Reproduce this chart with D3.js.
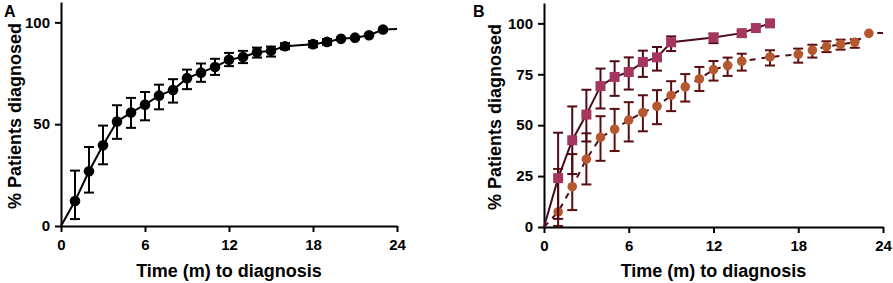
<!DOCTYPE html>
<html lang="en">
<head>
<meta charset="UTF-8">
<title>time to diagnosis</title>
<script src="https://cdn.jsdelivr.net/npm/d3@7/dist/d3.min.js"></script>
<style>
	body { margin: 0; background: #fff; }
	text { font-family: "Liberation Sans", Arial, sans-serif; font-weight: bold; }
</style>
</head>
<body>
<script>
// panel A: all patients
var aMonths = [1, 2, 3, 4, 5, 6, 7, 8, 9, 10, 11, 12, 13, 14, 15, 16, 18, 19, 20, 21, 22, 23];
var aMean = [12.3, 26.9, 39.6, 51.3, 55.7, 59.6, 64.0, 66.8, 72.6, 75.3, 78.1, 81.6, 83.0, 85.3, 86.0, 88.3, 89.3, 90.4, 91.9, 92.5, 93.7, 96.5];
var aLow = [3.4, 16.4, 30.3, 42.8, 48.2, 51.9, 57.3, 60.6, 67.2, 70.8, 74.2, 78.5, 80.0, 82.7, 83.2, 86.8, 87.8, 89.0, 91.9, 92.5, 93.7, 96.5];
var aHigh = [27.2, 38.8, 49.3, 59.3, 62.9, 65.8, 69.4, 72.1, 76.8, 79.8, 82.1, 85.0, 86.0, 87.6, 88.1, 89.8, 90.8, 91.8, 91.9, 92.5, 93.7, 96.5];
var aEnd = 96.7;

// panel B: squares (solid) and circles (dashed)
var sqMonths = [1, 2, 3, 4, 5, 6, 7, 8, 9, 12, 14, 15, 16];
var sqMean = [24.0, 42.6, 55.2, 69.2, 73.7, 76.1, 81.0, 83.3, 90.7, 93.1, 95.2, 97.7, 100];
var sqLow = [4, 26, 42, 58.2, 64.4, 67.5, 73.7, 76.8, 86.4, 90.3, 93.5, 97.7, 100];
var sqHigh = [46.3, 59.2, 67.4, 77.8, 81.4, 83.3, 86.6, 88.4, 93.6, 94.9, 96.2, 97.7, 100];

var ciMonths = [1, 2, 3, 4, 5, 6, 7, 8, 9, 10, 11, 12, 13, 14, 16, 18, 19, 20, 21, 22, 23];
var ciMean = [7.4, 19.8, 33.3, 44.0, 48.0, 52.5, 56.2, 59.3, 64.6, 68.8, 72.7, 77.3, 79.3, 81.4, 83.5, 84.8, 86.8, 88.6, 89.7, 90.7, 95.1];
var ciLow = [0.5, 8.3, 20.9, 32.5, 37.3, 42.0, 47.0, 50.5, 56.9, 61.6, 66.8, 71.9, 74.2, 76.8, 79.3, 80.7, 83.2, 85.9, 87.1, 88.0, 95.1];
var ciHigh = [28.5, 35.8, 46.0, 54.4, 58.0, 61.3, 64.7, 67.2, 71.6, 75.1, 78.6, 81.5, 83.2, 85.1, 86.8, 87.6, 89.5, 91.2, 92.0, 92.2, 95.1];
var ciEnd = 95.3;

var xTicks = [0, 6, 12, 18, 24];
var aYTicks = [0, 50, 100];
var bYTicks = [0, 25, 50, 75, 100];

var width = 893,
	height = 283;

var svg = d3.select('body').append('svg')
	.attr('width', width)
	.attr('height', height);

function rows(months, mean, low, high) {
	return months.map((m, i) => ({ m: m, v: mean[i], lo: low[i], hi: high[i] }));
}

function makePanel(left, right, top, bottom, yTicks) {
	var x = d3.scaleLinear().domain([0, 24]).range([left, right]);
	var y = d3.scaleLinear().domain([0, 110]).range([bottom, top]);

	var gx = svg.append('g')
		.attr('transform', `translate(0,${bottom})`)
		.call(d3.axisBottom(x).tickValues(xTicks).tickSize(6).tickPadding(7).tickSizeOuter(0));
	var gy = svg.append('g')
		.attr('transform', `translate(${left},0)`)
		.call(d3.axisLeft(y).tickValues(yTicks).tickSize(6).tickPadding(5).tickSizeOuter(0));

	[gx, gy].forEach(g => {
		g.select('.domain').attr('stroke', '#000').attr('stroke-width', 2);
		g.selectAll('.tick line').attr('stroke', '#000').attr('stroke-width', 2);
		g.selectAll('.tick text').attr('fill', '#000')
			.style('font-size', '15px')
			.style('font-family', '"Liberation Sans", Arial, sans-serif')
			.style('font-weight', 'bold');
	});

	return { x: x, y: y };
}

function drawSeries(p, data, start, end, opts) {
	var line = d3.line().x(d => p.x(d.m)).y(d => p.y(d.v));
	var pts = [{ m: 0, v: 0 }].concat(data);
	if (end != null) pts.push({ m: 24, v: end });

	svg.append('path')
		.datum(pts)
		.attr('fill', 'none')
		.attr('stroke', opts.lineColor)
		.attr('stroke-width', 2)
		.attr('stroke-dasharray', opts.dash || null)
		.attr('d', line);

	var bars = svg.append('g')
		.attr('stroke', opts.barColor)
		.attr('stroke-width', 2)
		.selectAll('g')
		.data(data.filter(d => d.hi - d.lo > 0.5))
		.enter().append('g');

	bars.append('line')
		.attr('x1', d => p.x(d.m)).attr('x2', d => p.x(d.m))
		.attr('y1', d => p.y(d.lo)).attr('y2', d => p.y(d.hi));
	bars.append('line')
		.attr('x1', d => p.x(d.m) - 5).attr('x2', d => p.x(d.m) + 5)
		.attr('y1', d => p.y(d.lo)).attr('y2', d => p.y(d.lo));
	bars.append('line')
		.attr('x1', d => p.x(d.m) - 5).attr('x2', d => p.x(d.m) + 5)
		.attr('y1', d => p.y(d.hi)).attr('y2', d => p.y(d.hi));

	if (opts.shape == 'square') {
		svg.append('g').selectAll('rect')
			.data(data)
			.enter().append('rect')
			.attr('x', d => p.x(d.m) - 5)
			.attr('y', d => p.y(d.v) - 5)
			.attr('width', 10)
			.attr('height', 10)
			.attr('fill', opts.fill);
	} else {
		svg.append('g').selectAll('circle')
			.data(data)
			.enter().append('circle')
			.attr('cx', d => p.x(d.m))
			.attr('cy', d => p.y(d.v))
			.attr('r', opts.r)
			.attr('fill', opts.fill);
	}
}

function labels(p, letter, letterX, labelX) {
	var r = p.x.range(), d = p.y.range();
	svg.append('text')
		.attr('x', (r[0] + r[1]) / 2)
		.attr('y', 277)
		.attr('text-anchor', 'middle')
		.style('font-size', '18px')
		.text('Time (m) to diagnosis');
	svg.append('text')
		.attr('transform', `translate(${labelX},${(d[0] + d[1]) / 2 + 2}) rotate(-90)`)
		.attr('text-anchor', 'middle')
		.style('font-size', '18px')
		.text('% Patients diagnosed');
	svg.append('text')
		.attr('x', letterX)
		.attr('y', 17)
		.style('font-size', '16px')
		.text(letter);
}

// panel A
var pA = makePanel(61, 397, 2, 226, aYTicks);
drawSeries(pA, rows(aMonths, aMean, aLow, aHigh), 0, aEnd, {
	lineColor: '#000', barColor: '#000', fill: '#000', shape: 'circle', r: 5.3
});
labels(pA, 'A', 4, 21);

// panel B
var pB = makePanel(544, 883, 3, 227, bYTicks);
drawSeries(pB, rows(ciMonths, ciMean, ciLow, ciHigh), 0, ciEnd, {
	lineColor: '#4d0c16', barColor: '#5c0d0d', fill: '#b5582f', shape: 'circle', r: 4.8, dash: '6,6'
});
drawSeries(pB, rows(sqMonths, sqMean, sqLow, sqHigh), 0, null, {
	lineColor: '#4a0c1c', barColor: '#4f0a16', fill: '#a5365f', shape: 'square'
});
labels(pB, 'B', 473, 501);
</script>
</body>
</html>
